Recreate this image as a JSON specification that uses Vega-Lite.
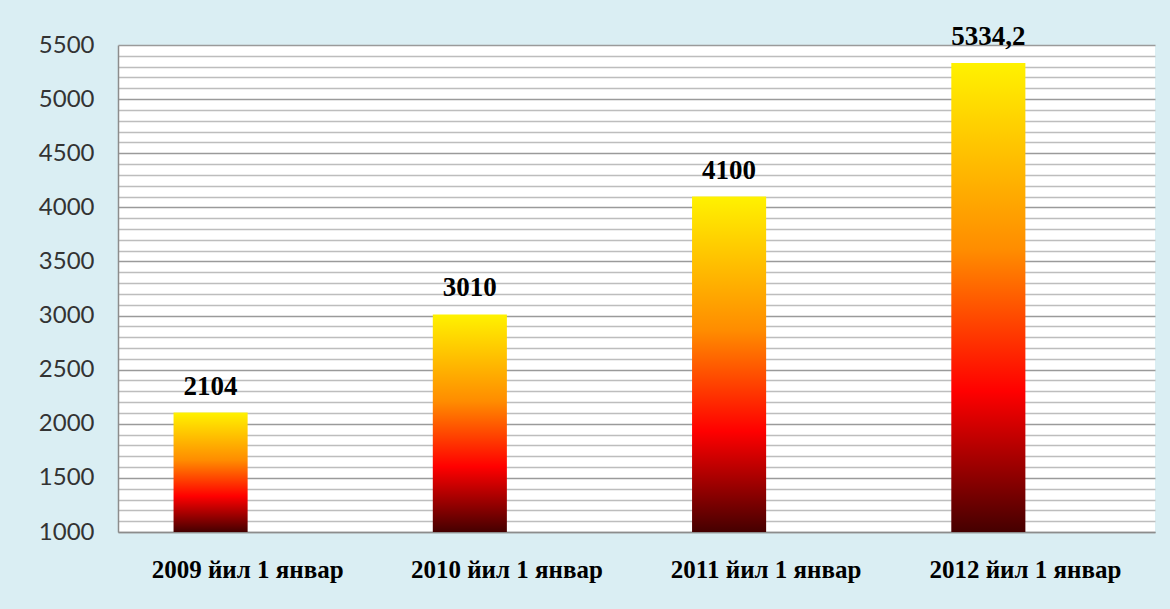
{
  "$schema": "https://vega.github.io/schema/vega-lite/v6.json",
  "autosize": "none",
  "width": 1037,
  "height": 487,
  "padding": {"left": 118, "top": 45, "right": 15, "bottom": 77},
  "background": "#daeef3",
  "config": {
    "view": {"fill": "white", "stroke": null}
  },
  "data": {
    "values": [
      {"date": "2009 йил 1 январ", "value": 2104, "label": "2104", "s": "a"},
      {"date": "2010 йил 1 январ", "value": 3010, "label": "3010", "s": "a"},
      {"date": "2011 йил 1 январ", "value": 4100, "label": "4100", "s": "a"},
      {"date": "2012 йил 1 январ", "value": 5334.2, "label": "5334,2", "s": "a"}
    ]
  },
  "encoding": {
    "x": {
      "field": "date",
      "type": "nominal",
      "sort": null,
      "scale": {"paddingInner": 0, "paddingOuter": 0},
      "axis": {
        "title": null,
        "labelAngle": 0,
        "labelFont": "Liberation Serif",
        "labelFontWeight": "bold",
        "labelFontSize": 25,
        "labelLimit": 0,
        "labelColor": "#000000",
        "labelPadding": 25,
        "ticks": false,
        "domainColor": "#8c8c8c",
        "domainWidth": 1.5,
        "grid": false
      }
    },
    "xOffset": {
      "field": "s",
      "type": "nominal",
      "scale": {"domain": ["a", "b"], "paddingInner": 0, "paddingOuter": 0.75}
    },
    "y": {
      "field": "value",
      "type": "quantitative",
      "scale": {"domain": [1000, 5500], "nice": false, "zero": false},
      "axis": {
        "title": null,
        "values": [1000, 1100, 1200, 1300, 1400, 1500, 1600, 1700, 1800, 1900, 2000, 2100, 2200, 2300, 2400, 2500, 2600, 2700, 2800, 2900, 3000, 3100, 3200, 3300, 3400, 3500, 3600, 3700, 3800, 3900, 4000, 4100, 4200, 4300, 4400, 4500, 4600, 4700, 4800, 4900, 5000, 5100, 5200, 5300, 5400, 5500],
        "labelExpr": "datum.value % 500 === 0 ? datum.label : ''",
        "format": "d",
        "labelFont": "Lato",
        "labelFontSize": 24,
        "labelColor": "#333333",
        "labelPadding": 24,
        "ticks": false,
        "domainColor": "#8c8c8c",
        "domainWidth": 1.5,
        "grid": true,
        "gridColor": {"condition": {"test": "datum.value % 500 === 0", "value": "#9a9a9a"}, "value": "#bdbdbd"},
        "gridWidth": 1.5
      }
    }
  },
  "layer": [
    {
      "mark": {
        "type": "bar",
        "color": {
          "gradient": "linear",
          "x1": 0, "y1": 1, "x2": 0, "y2": 0,
          "stops": [
            {"offset": 0, "color": "#450000"},
            {"offset": 0.3, "color": "#ff0000"},
            {"offset": 0.6, "color": "#ff8c00"},
            {"offset": 1, "color": "#fff200"}
          ]
        }
      },
      "encoding": {"y2": {"datum": 1000}}
    },
    {
      "mark": {
        "type": "text",
        "font": "Liberation Serif",
        "fontWeight": "bold",
        "fontSize": 27,
        "color": "#000000",
        "baseline": "alphabetic",
        "dy": -18
      },
      "encoding": {"text": {"field": "label"}}
    }
  ]
}
